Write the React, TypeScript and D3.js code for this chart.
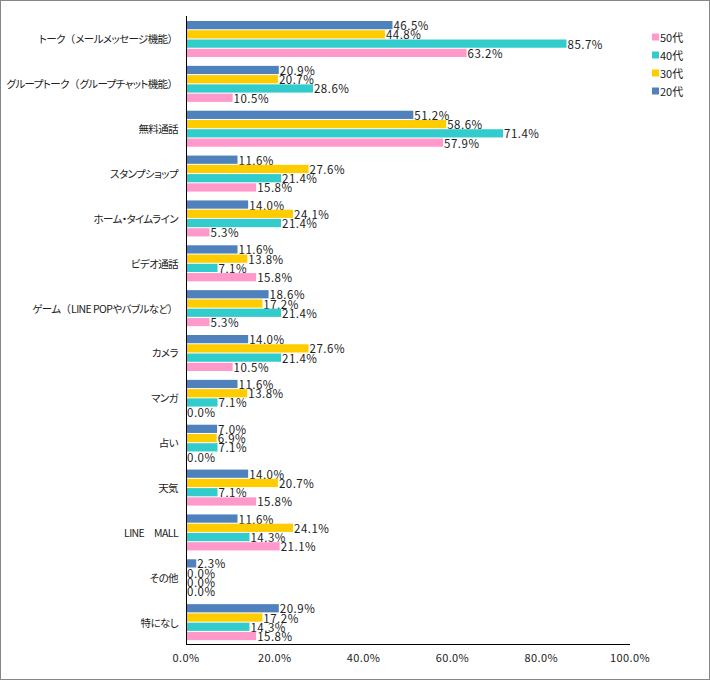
import React from 'react';
import * as d3 from 'd3';

const categories = [
  'トーク（メールメッセージ機能）',
  'グループトーク（グループチャット機能）',
  '無料通話',
  'スタンプショップ',
  'ホーム・タイムライン',
  'ビデオ通話',
  'ゲーム（LINE POPやバブルなど）',
  'カメラ',
  'マンガ',
  '占い',
  '天気',
  'LINE　MALL',
  'その他',
  '特になし',
];

const series = ['20代', '30代', '40代', '50代'];
const legendOrder = ['50代', '40代', '30代', '20代'];

const v20 = [46.5, 20.9, 51.2, 11.6, 14.0, 11.6, 18.6, 14.0, 11.6, 7.0, 14.0, 11.6, 2.3, 20.9];
const v30 = [44.8, 20.7, 58.6, 27.6, 24.1, 13.8, 17.2, 27.6, 13.8, 6.9, 20.7, 24.1, 0.0, 17.2];
const v40 = [85.7, 28.6, 71.4, 21.4, 21.4, 7.1, 21.4, 21.4, 7.1, 7.1, 7.1, 14.3, 0.0, 14.3];
const v50 = [63.2, 10.5, 57.9, 15.8, 5.3, 15.8, 5.3, 10.5, 0.0, 0.0, 15.8, 21.1, 0.0, 15.8];

const xTicks = [0, 20, 40, 60, 80, 100];

const colors: Record<string, string> = {
  '20代': '#4F81BD',
  '30代': '#FFCC00',
  '40代': '#33CCCC',
  '50代': '#FF99CC',
};

const font = '"Noto Sans CJK JP", "Noto Sans", sans-serif';

// kana proportional (narrower, squeezed a bit), full-width brackets kept wide
function catLabel(c: string) {
  return c.split(/([（）])/).filter((p) => p !== '').map((p, k) => {
    const bracket = p === '（' || p === '）';
    return (
      <tspan
        key={k}
        letterSpacing={bracket ? 0 : -0.6}
        style={{ fontFeatureSettings: bracket ? 'normal' : '"palt"' }}
      >
        {p}
      </tspan>
    );
  });
}

export default function App() {
  const W = 710;
  const H = 680;
  const valuesBySeries: Record<string, number[]> = {
    '20代': v20,
    '30代': v30,
    '40代': v40,
    '50代': v50,
  };

  const x = d3.scaleLinear().domain([0, 100]).range([186, 630]);
  const y = d3.scaleBand<string>().domain(categories).range([16, 644]).padding(0);
  const inner = d3.scaleBand<string>().domain(series).range([5, 41]).paddingInner(0.11).paddingOuter(0);

  return (
    <svg width={W} height={H} style={{ display: 'block', position: 'absolute', left: 0, top: 0 }}>
      <rect x={0.5} y={0.5} width={W - 1} height={H - 1} fill="#fff" stroke="#868686" />
      {categories.map((c, i) => (
        <g key={c} transform={`translate(0,${y(c)})`}>
          <text
            x={178}
            y={y.bandwidth() / 2}
            textAnchor="end"
            dominantBaseline="central"
            fontFamily={font}
            fontSize={10.5}
            fill="#222"
          >
            {catLabel(c)}
          </text>
          {series.map((s) => {
            const v = valuesBySeries[s][i];
            const by = inner(s)!;
            return (
              <g key={s}>
                <rect x={x(0)} y={by} width={x(v) - x(0)} height={inner.bandwidth()} fill={colors[s]} />
                <text
                  x={x(v) + 1}
                  y={by + inner.bandwidth() / 2}
                  dominantBaseline="central"
                  fontFamily={font}
                  fontSize={11.5}
                  letterSpacing={0.5}
                  fill="#222"
                >
                  {v.toFixed(1) + '%'}
                </text>
              </g>
            );
          })}
        </g>
      ))}
      <line x1={186.5} x2={186.5} y1={16} y2={644} stroke="#000" />
      <line x1={186} x2={630} y1={644.5} y2={644.5} stroke="#000" />
      {xTicks.map((t) => (
        <text
          key={t}
          x={x(t)}
          y={657}
          textAnchor="middle"
          dominantBaseline="central"
          fontFamily={font}
          fontSize={11}
          letterSpacing={0.4}
          fill="#222"
        >
          {t.toFixed(1) + '%'}
        </text>
      ))}
      {legendOrder.map((s, i) => (
        <g key={s} transform={`translate(652,${37 + i * 18})`}>
          <rect x={0} y={-3.5} width={7} height={7} fill={colors[s]} />
          <text x={8} y={0} dominantBaseline="central" fontFamily={font} fontSize={11} fill="#222">
            {s}
          </text>
        </g>
      ))}
    </svg>
  );
}
